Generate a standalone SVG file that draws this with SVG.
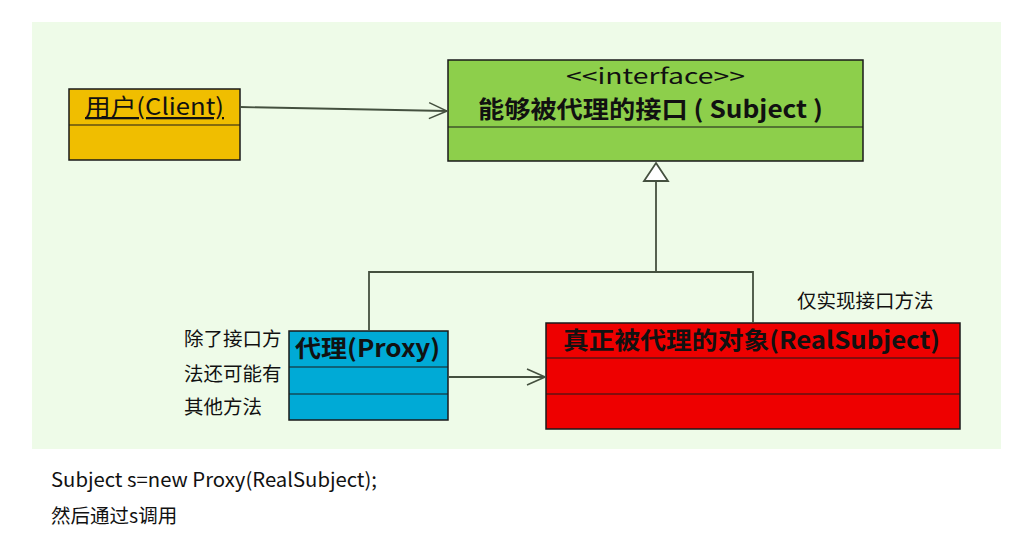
<svg xmlns="http://www.w3.org/2000/svg" width="1030" height="539" viewBox="0 0 1030 539">
<style>
.box{stroke:#1a1a1a;stroke-width:1.5}
.div{stroke:#1a1a1a;stroke-width:1.2}
.conn{stroke:#44503f;stroke-width:1.8;fill:none}
.t{font-family:"Noto Sans CJK SC","Open Sans",sans-serif;fill:#111}
.b{font-weight:bold}
.lbl{font-family:"Noto Sans CJK SC",sans-serif;font-size:19.5px;fill:#111}
</style>
<defs>
<marker id="open" viewBox="0 0 20 20" refX="19" refY="10" markerWidth="20" markerHeight="20" markerUnits="userSpaceOnUse" orient="auto">
<path d="M1,2 L19,10 L1,18" fill="none" stroke="#44503f" stroke-width="1.5"/>
</marker>
</defs>
<rect x="0" y="0" width="1030" height="539" fill="#ffffff"/>
<rect x="32" y="22" width="969" height="427" fill="#eefbe8"/>

<g id="client">
<rect class="box" x="69" y="89" width="171" height="71" fill="#f0be00"/>
<line class="div" x1="69" y1="125" x2="240" y2="125"/>
<text class="t" x="85" y="115" font-size="23" textLength="139" lengthAdjust="spacingAndGlyphs" text-decoration="underline">用户(Client)</text>
</g>

<g id="subject">
<rect class="box" x="448" y="60" width="415" height="101" fill="#8dcf4b"/>
<line class="div" x1="448" y1="127" x2="863" y2="127"/>
<text class="t" x="566" y="84" font-size="21" textLength="179" lengthAdjust="spacingAndGlyphs">&lt;&lt;interface&gt;&gt;</text>
<text class="t b" x="478" y="118" font-size="24" textLength="345" lengthAdjust="spacingAndGlyphs">能够被代理的接口 ( Subject )</text>
</g>

<g id="proxy">
<rect class="box" x="289" y="331" width="159" height="89" fill="#00aad6"/>
<line class="div" x1="289" y1="367" x2="448" y2="367"/>
<line class="div" x1="289" y1="394" x2="448" y2="394"/>
<text class="t b" x="295" y="357" font-size="24" textLength="145" lengthAdjust="spacingAndGlyphs">代理(Proxy)</text>
</g>

<g id="realsubject">
<rect class="box" x="546" y="323" width="414" height="106" fill="#ee0000"/>
<line class="div" x1="546" y1="358" x2="960" y2="358"/>
<line class="div" x1="546" y1="394" x2="960" y2="394"/>
<text class="t b" x="563" y="349" font-size="24" textLength="377" lengthAdjust="spacingAndGlyphs">真正被代理的对象(RealSubject)</text>
</g>

<g id="connectors">
<line class="conn" x1="240" y1="107" x2="447" y2="111" marker-end="url(#open)"/>
<line class="conn" x1="448" y1="377" x2="545" y2="377" marker-end="url(#open)"/>
<polyline class="conn" points="369,331 369,272 753,272 753,323"/>
<line class="conn" x1="656" y1="272" x2="656" y2="181"/>
<polygon points="656,163 668,181 644,181" fill="#ffffff" stroke="#44503f" stroke-width="1.8"/>
</g>

<g id="notes">
<text class="lbl" x="184" y="346">除了接口方</text>
<text class="lbl" x="184" y="381">法还可能有</text>
<text class="lbl" x="184" y="414">其他方法</text>
<text class="lbl" x="797" y="308">仅实现接口方法</text>
<text class="lbl" x="51" y="487" textLength="326" lengthAdjust="spacingAndGlyphs">Subject s=new Proxy(RealSubject);</text>
<text class="lbl" x="51" y="523">然后通过s调用</text>
</g>
</svg>
